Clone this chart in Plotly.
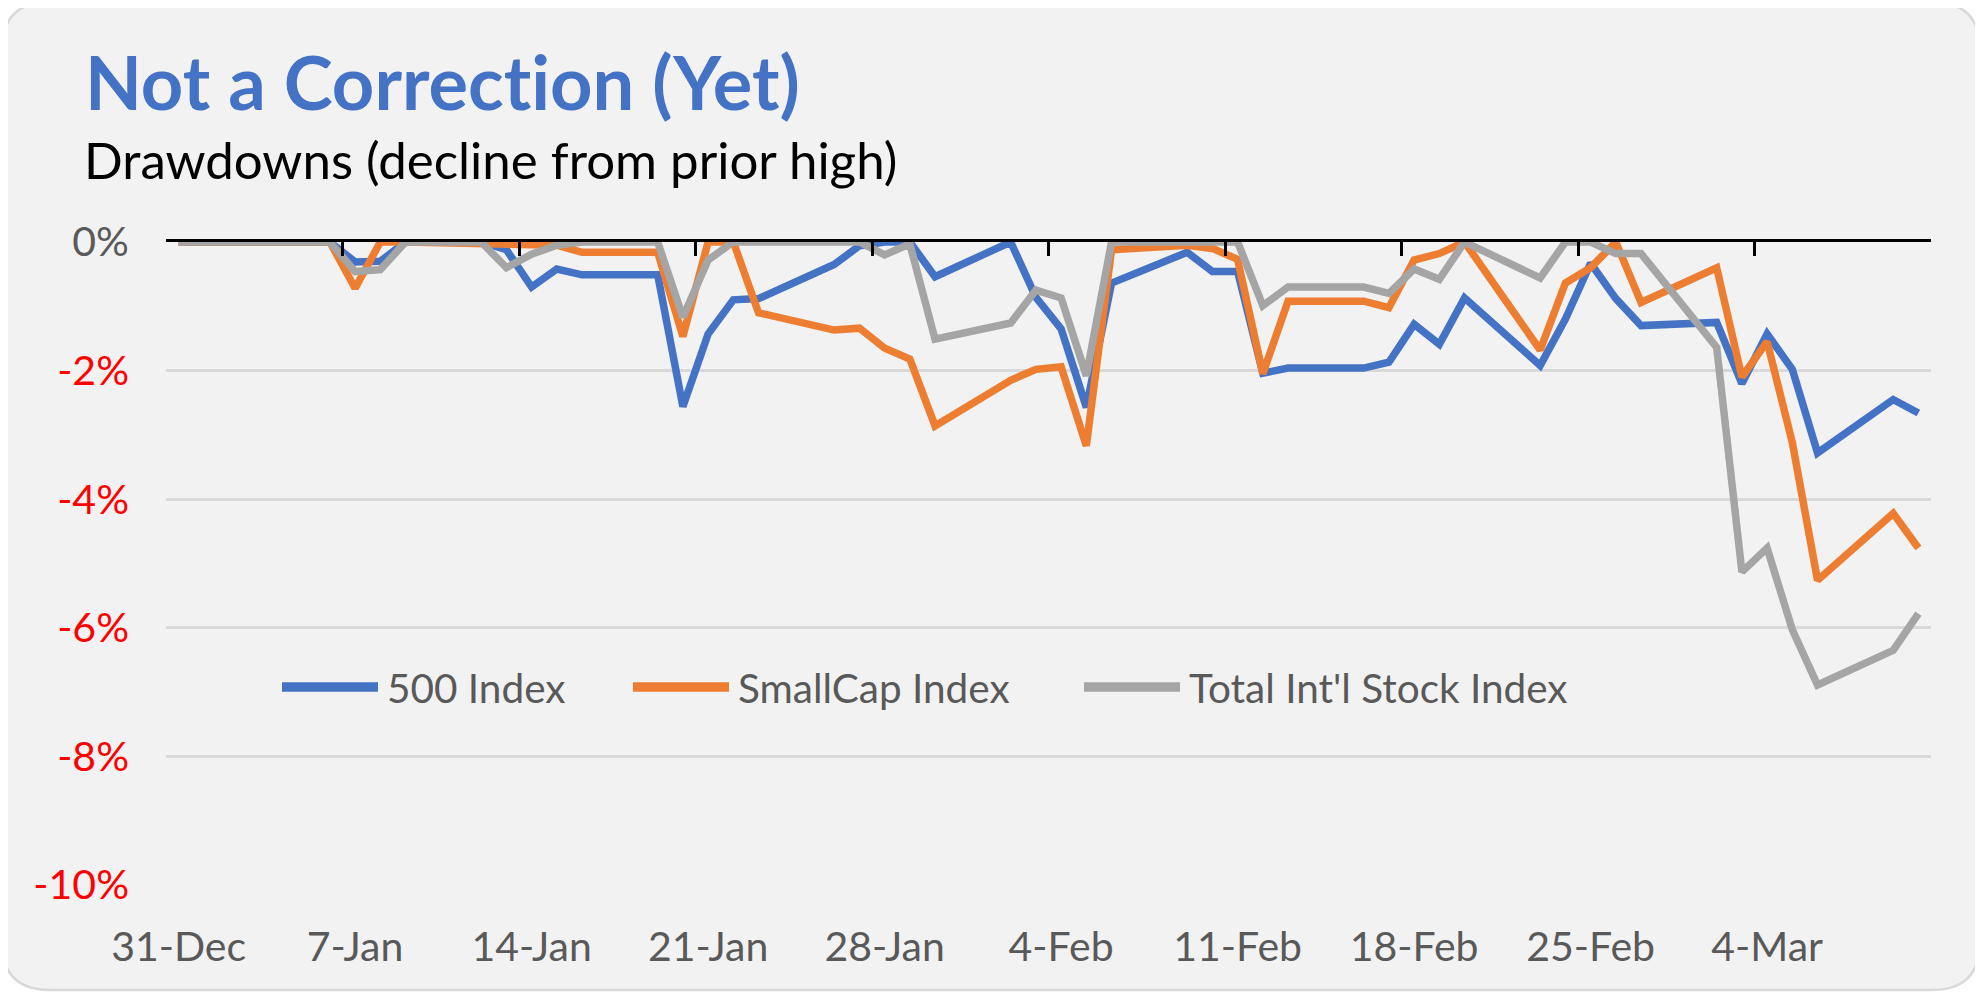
import pandas as pd
import plotly.graph_objects as go

# ---------------- data ----------------
dates = [
    "2025-12-31", "2026-01-01", "2026-01-02",
    "2026-01-05", "2026-01-06", "2026-01-07", "2026-01-08", "2026-01-09",
    "2026-01-12", "2026-01-13", "2026-01-14", "2026-01-15", "2026-01-16",
    "2026-01-19", "2026-01-20", "2026-01-21", "2026-01-22", "2026-01-23",
    "2026-01-26", "2026-01-27", "2026-01-28", "2026-01-29", "2026-01-30",
    "2026-02-02", "2026-02-03", "2026-02-04", "2026-02-05", "2026-02-06",
    "2026-02-09", "2026-02-10", "2026-02-11", "2026-02-12", "2026-02-13",
    "2026-02-16", "2026-02-17", "2026-02-18", "2026-02-19", "2026-02-20",
    "2026-02-23", "2026-02-24", "2026-02-25", "2026-02-26", "2026-02-27",
    "2026-03-02", "2026-03-03", "2026-03-04", "2026-03-05", "2026-03-06",
    "2026-03-09", "2026-03-10",
]

idx500 = [
    0, 0, 0,
    0, 0, -0.31, -0.30, 0,
    0, -0.12, -0.70, -0.42, -0.51,
    -0.51, -2.56, -1.43, -0.90, -0.88,
    -0.35, -0.06, 0, 0, -0.54,
    0, -0.86, -1.35, -2.57, -0.64,
    -0.16, -0.46, -0.46, -2.04, -1.96,
    -1.96, -1.87, -1.28, -1.59, -0.87,
    -1.92, -1.20, -0.33, -0.88, -1.30,
    -1.25, -2.20, -1.43, -1.98, -3.28,
    -2.45, -2.66,
]

smallcap = [
    0, 0, 0,
    0, 0, -0.72, 0, 0,
    -0.02, -0.03, -0.03, -0.05, -0.16,
    -0.16, -1.47, 0, 0, -1.10,
    -1.37, -1.34, -1.65, -1.82, -2.86,
    -2.15, -1.98, -1.94, -3.17, -0.12,
    -0.05, -0.10, -0.27, -2.05, -0.92,
    -0.92, -1.02, -0.28, -0.18, 0,
    -1.68, -0.64, -0.40, 0, -0.94,
    -0.40, -2.10, -1.55, -3.12, -5.26,
    -4.22, -4.76,
]

intl = [
    0, 0, 0,
    0, 0, -0.46, -0.43, 0,
    0, -0.40, -0.19, -0.05, 0,
    0, -1.17, -0.28, 0, 0,
    0, 0, -0.20, -0.03, -1.51,
    -1.26, -0.75, -0.87, -2.08, 0,
    0, 0, 0, -0.99, -0.70,
    -0.70, -0.80, -0.42, -0.58, 0,
    -0.56, 0, 0, -0.18, -0.18,
    -1.64, -5.13, -4.76, -6.03, -6.89,
    -6.35, -5.78,
]

series_names = ["500 Index", "SmallCap Index", "Total Int'l Stock Index"]
series_values = [idx500, smallcap, intl]
series_colors = ["#4472C4", "#ED7D31", "#A5A5A5"]

x_tick_dates = ["2025-12-31", "2026-01-07", "2026-01-14", "2026-01-21", "2026-01-28",
                "2026-02-04", "2026-02-11", "2026-02-18", "2026-02-25", "2026-03-04"]
x_tick_labels = ["31-Dec", "7-Jan", "14-Jan", "21-Jan", "28-Jan",
                 "4-Feb", "11-Feb", "18-Feb", "25-Feb", "4-Mar"]

y_tick_vals = [0, -2, -4, -6, -8, -10]
y_tick_labels = ["0%", "-2%", "-4%", "-6%", "-8%", "-10%"]

title_text = "Not a Correction (Yet)"
subtitle_text = "Drawdowns (decline from prior high)"

# ---------------- layout geometry (pixels) ----------------
OFF = 8                      # page body margin of the html page
W, H = 1983 - OFF, 993 - OFF
PL, PR, PT, PB = 166 - OFF, 1931 - OFF, 242 - OFF, 885 - OFF   # plot area edges
ML, MR, MT, MB = PL, W - PR, PT, H - PB
PW, PH = PR - PL, PB - PT
FONT = "Lato"


def xp(px):
    """reference pixel x -> paper coordinate"""
    return (px - OFF - PL) / PW


def yp(py):
    """reference pixel y -> paper coordinate"""
    return (PB - (py - OFF)) / PH


def no_ligatures(s):
    # zero-width non-joiner between t and i stops the font's "ti" ligature
    return s.replace("ti", "t\u200ci")


x_start = pd.Timestamp(dates[0]) - pd.Timedelta(hours=12)
x_end = pd.Timestamp(dates[-1]) + pd.Timedelta(hours=12)
x_range = [x_start, x_end]
boundary_ticks = [pd.Timestamp(d) - pd.Timedelta(hours=12) for d in x_tick_dates] + [x_end]

fig = go.Figure()
for i, (name, vals, col) in enumerate(zip(series_names, series_values, series_colors)):
    fig.add_trace(go.Scatter(
        x=dates, y=vals, name=name, mode="lines",
        line=dict(color=col, width=7.5),
        showlegend=False,
        xaxis="x2" if i == len(series_names) - 1 else "x",
    ))

# rounded background card
L, R, T, B, r = 2, 1980, 2, 990, 48
card = (
    f"M{xp(L + r)},{yp(T)} L{xp(R - r)},{yp(T)} Q{xp(R)},{yp(T)} {xp(R)},{yp(T + r)} "
    f"L{xp(R)},{yp(B - r)} Q{xp(R)},{yp(B)} {xp(R - r)},{yp(B)} "
    f"L{xp(L + r)},{yp(B)} Q{xp(L)},{yp(B)} {xp(L)},{yp(B - r)} "
    f"L{xp(L)},{yp(T + r)} Q{xp(L)},{yp(T)} {xp(L + r)},{yp(T)} Z"
)
shapes = [dict(type="path", path=card, xref="paper", yref="paper",
               fillcolor="#F2F2F2", line=dict(color="#D9D9D9", width=2.5), layer="below")]

annotations = [
    dict(text=f"<b>{no_ligatures(title_text)}</b>", xref="paper", yref="paper",
         x=xp(83), y=yp(81), xanchor="left", yanchor="middle", showarrow=False,
         font=dict(family=FONT, size=74, color="#4472C4")),
    dict(text=no_ligatures(subtitle_text), xref="paper", yref="paper", x=xp(82), y=yp(160),
         xanchor="left", yanchor="middle", showarrow=False,
         font=dict(family=FONT, size=51, color="#000000")),
]

# legend drawn as line samples + labels
leg_y = 687
leg_items = [(282, 378, 385), (633, 729, 736), (1084, 1180, 1187)]
for (l0, l1, tx), name, col in zip(leg_items, series_names, series_colors):
    shapes.append(dict(type="line", xref="paper", yref="paper",
                       x0=xp(l0), x1=xp(l1), y0=yp(leg_y), y1=yp(leg_y),
                       line=dict(color=col, width=9.5)))
    annotations.append(dict(text=name, xref="paper", yref="paper", x=xp(tx), y=yp(leg_y),
                            xanchor="left", yanchor="middle", showarrow=False,
                            font=dict(family=FONT, size=40.5, color="#595959")))

y_ticktext = [
    f"<span style='color:{'#595959' if v == 0 else '#FF0000'}'>{t}</span>"
    for v, t in zip(y_tick_vals, y_tick_labels)
]

fig.update_layout(
    width=W, height=H, autosize=False,
    margin=dict(l=ML, r=MR, t=MT, b=MB, pad=0),
    paper_bgcolor="#FFFFFF", plot_bgcolor="rgba(0,0,0,0)",
    font=dict(family=FONT, size=41, color="#595959"),
    showlegend=False,
    shapes=shapes, annotations=annotations,
    xaxis=dict(type="date", range=x_range, tickmode="array", tickvals=x_tick_dates,
               ticktext=x_tick_labels, showgrid=False, zeroline=False, showline=False,
               ticks="", ticklabelstandoff=34,
               tickfont=dict(family=FONT, size=41, color="#595959")),
    xaxis2=dict(type="date", range=x_range, overlaying="x", side="top", anchor="y",
                tickmode="array", tickvals=boundary_ticks, showticklabels=False,
                ticks="inside", ticklen=14, tickwidth=2.7, tickcolor="#000000",
                showline=True, linecolor="#000000", linewidth=2.7,
                showgrid=False, zeroline=False),
    yaxis=dict(range=[-10, 0], tickmode="array", tickvals=y_tick_vals, ticktext=y_ticktext,
               showgrid=True, gridcolor="#D9D9D9", gridwidth=3, zeroline=False,
               showline=False, ticks="", ticklabelstandoff=36,
               tickfont=dict(family=FONT, size=41, color="#595959")),
)

fig.write_html("out.html")
